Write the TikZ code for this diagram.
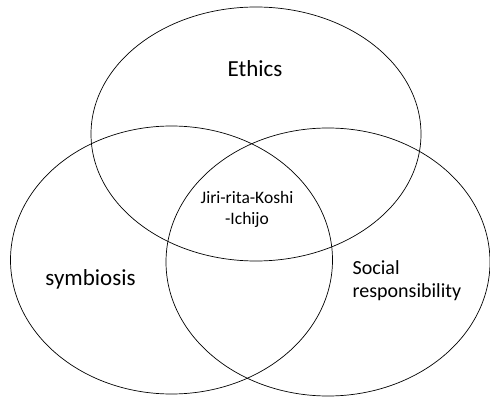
\documentclass[tikz,border=0pt]{standalone}
\usepackage{fontspec}
\setmainfont{Carlito}
\begin{document}
\begin{tikzpicture}[x=1pt,y=-1pt,
  circ/.style={draw=black,line width=0.7pt},
  lbl/.style={inner sep=0pt,text=black}]
\useasboundingbox (0,0) rectangle (490,398);
\draw[circ] (256,134) ellipse [x radius=165pt, y radius=127pt];
\draw[circ] (171.5,260) ellipse [x radius=161pt, y radius=134pt];
\draw[circ] (328,262) ellipse [x radius=162pt, y radius=134pt];
\node[lbl,anchor=base,font=\fontsize{23}{28}\selectfont] (ethics) at (255,77) {Ethics};
\node[lbl,anchor=base,font=\fontsize{23}{28}\selectfont] (symb) at (90.5,285) {symbiosis};
\node[lbl,anchor=base,align=center,font=\fontsize{17.5}{21.5}\selectfont] (jiri) at (247,225) {Jiri-rita-Koshi\\-Ichijo};
\node[lbl,anchor=base west,align=left,font=\fontsize{20}{24}\selectfont] (social) at (352.5,298) {Social\\responsibility};
\end{tikzpicture}
\end{document}
